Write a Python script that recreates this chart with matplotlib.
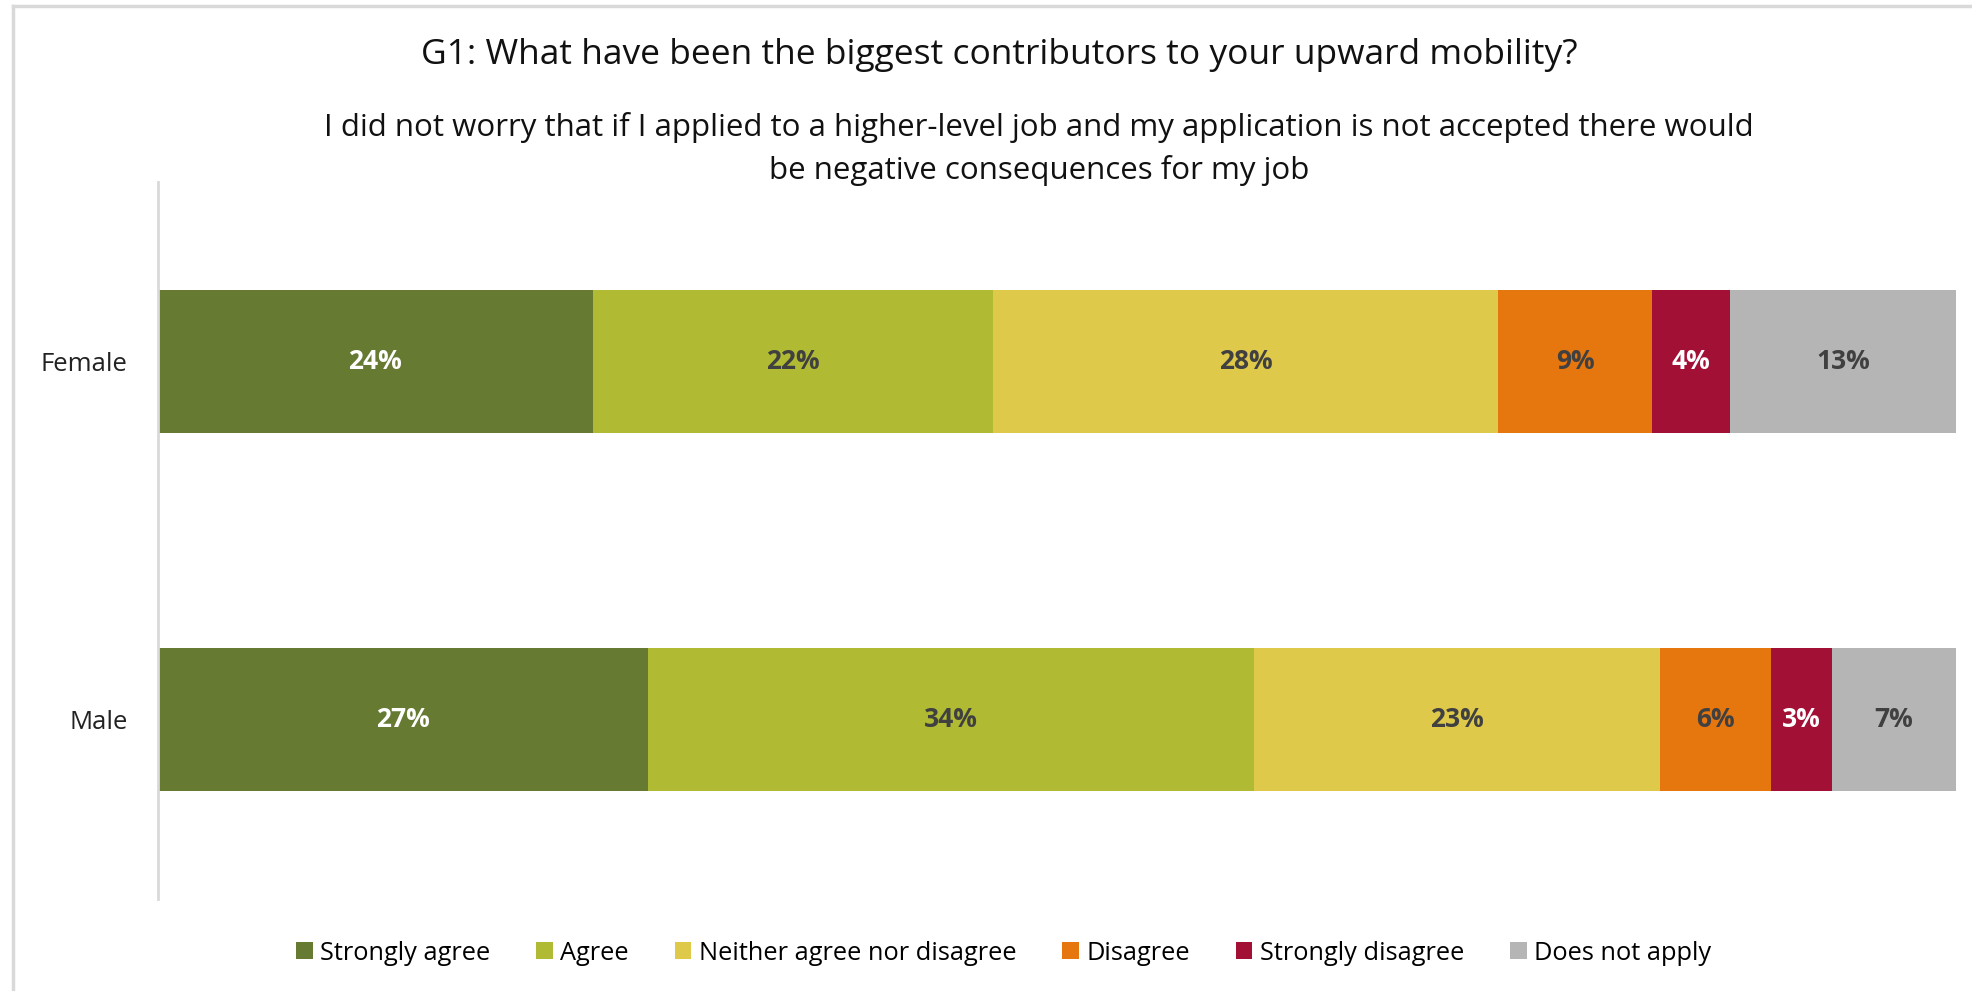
import matplotlib.pyplot as plt
import numpy as np

plt.rcParams['font.family'] = ['Open Sans', 'DejaVu Sans']

groups = ['Male', 'Female']
responses = ['Strongly agree', 'Agree', 'Neither agree nor disagree',
             'Disagree', 'Strongly disagree', 'Does not apply']
colors = ['#667A32', '#B0BA32', '#DFC94B', '#E6760E', '#A31036', '#B5B5B5']
label_colors = ['white', '#404040', '#404040', '#404040', 'white', '#404040']

# share of answers (%), order = responses
female = [24.2, 22.3, 28.1, 8.6, 4.3, 12.6]
male = [27.3, 33.7, 22.6, 6.2, 3.4, 6.9]
values = np.array([male, female])

fig = plt.figure(figsize=(19.72, 9.91), dpi=100)
ax = fig.add_axes([0.0801, 0.0928, 0.9118, 0.7235])

left = np.zeros(len(groups))
for i, resp in enumerate(responses):
    ax.barh(groups, values[:, i], left=left, height=0.4, color=colors[i], label=resp)
    for j in range(len(groups)):
        ax.text(left[j] + values[j, i] / 2, j, f'{round(values[j, i])}%', ha='center', va='center',
                color=label_colors[i], fontsize=19, fontweight='bold')
    left += values[:, i]

ax.set_xlim(0, left.max())
ax.set_ylim(-0.5, 1.5)
ax.set_xticks([])
for s in ['top', 'right', 'bottom']:
    ax.spines[s].set_visible(False)
ax.spines['left'].set_color('#D9D9D9')
ax.spines['left'].set_linewidth(2)
ax.tick_params(axis='y', length=0, pad=22, labelsize=18.5, labelcolor='#222222')

fig.text(0.507, 0.944, 'G1: What have been the biggest contributors to your upward mobility?',
         ha='center', va='center', fontsize=25.5, color='#111111')
fig.text(0.527, 0.871, 'I did not worry that if I applied to a higher-level job and my application is not accepted there would',
         ha='center', va='center', fontsize=22.5, color='#111111')
fig.text(0.527, 0.828, 'be negative consequences for my job',
         ha='center', va='center', fontsize=22.5, color='#111111')

fig.legend(loc='center', bbox_to_anchor=(0.509, 0.038), ncol=6, frameon=False,
           fontsize=18.3, handlelength=0.65, handleheight=0.65, handletextpad=0.3,
           columnspacing=1.8)

# light grey frame on top and left edge
fig.add_artist(plt.Line2D([0.0066, 1.0], [0.994, 0.994], color='#D9D9D9', lw=2.5,
                          transform=fig.transFigure))
fig.add_artist(plt.Line2D([0.0066, 0.0066], [0.0, 0.994], color='#D9D9D9', lw=2.5,
                          transform=fig.transFigure))

fig.savefig('out.png', dpi=100)
